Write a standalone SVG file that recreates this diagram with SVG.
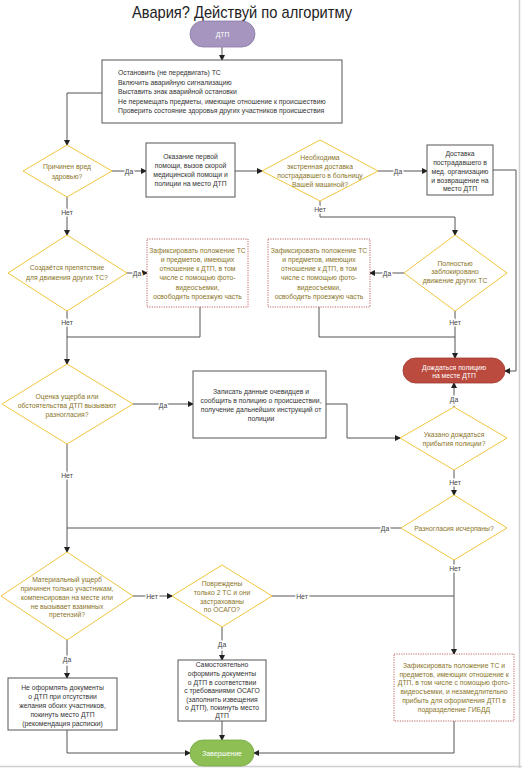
<svg xmlns="http://www.w3.org/2000/svg" width="522" height="768" viewBox="0 0 522 768">
<style>
text{font-family:"Liberation Sans",Arial,sans-serif;}
.t{font-size:6.8px;fill:#333;}
.c{text-anchor:middle;}
.q{font-size:6.8px;fill:#8a7428;text-anchor:middle;}
.w{font-size:6.8px;fill:#fff;text-anchor:middle;}
.box{fill:#fff;stroke:#555;stroke-width:1;}
.red{fill:#fff;stroke:#b04040;stroke-width:0.8;stroke-dasharray:1.2 1.2;}
.dia{fill:#fff;stroke:#f0c63c;stroke-width:1;}
.ln{fill:none;stroke:#555;stroke-width:1;}
.lb{font-size:6.8px;fill:#444;text-anchor:middle;stroke:#fff;stroke-width:3;paint-order:stroke;}
</style>
<defs>
<marker id="a" markerWidth="6" markerHeight="6" refX="5" refY="3" orient="auto" markerUnits="userSpaceOnUse">
<path d="M0,0 L6,3 L0,6 Z" fill="#222"/>
</marker>
</defs>
<rect width="522" height="768" fill="#fff"/>
<line x1="519.5" y1="0" x2="519.5" y2="768" stroke="#d0d0d0" stroke-width="1.5"/>
<line x1="0" y1="766.5" x2="522" y2="766.5" stroke="#d0d0d0" stroke-width="1.5"/>
<text x="242" y="18" font-size="17" fill="#222" text-anchor="middle" textLength="220" lengthAdjust="spacingAndGlyphs">Авария? Действуй по алгоритму</text>

<g id="connectors">
<path class="ln" d="M222,47 V60" marker-end="url(#a)"/>
<path class="ln" d="M102,93 H67 V145" marker-end="url(#a)"/>
<path class="ln" d="M112,171 H146" marker-end="url(#a)"/>
<path class="ln" d="M235,171 H262" marker-end="url(#a)"/>
<path class="ln" d="M378,171 H427" marker-end="url(#a)"/>
<path class="ln" d="M493,170 H516 V371 H505" stroke="#777" marker-end="url(#a)"/>
<path class="ln" d="M67,197 V235" marker-end="url(#a)"/>
<path class="ln" d="M320,201 V217 H455 V235" marker-end="url(#a)"/>
<path class="ln" d="M127,273 H147" marker-end="url(#a)"/>
<path class="ln" d="M404,273 H370" marker-end="url(#a)"/>
<path class="ln" d="M67,311 V364" marker-end="url(#a)"/>
<path class="ln" d="M200,307 V337 H67"/>
<path class="ln" d="M455,311 V358" marker-end="url(#a)"/>
<path class="ln" d="M319,307 V337 H455"/>
<path class="ln" d="M133,404 H193" marker-end="url(#a)"/>
<path class="ln" d="M326,404 H347 V438 H400" marker-end="url(#a)"/>
<path class="ln" d="M454,407 V383" marker-end="url(#a)"/>
<path class="ln" d="M454,470 V495" marker-end="url(#a)"/>
<path class="ln" d="M401,528 H67" stroke="#888" stroke-width="1.5"/>
<path class="ln" d="M67,444 V552" marker-end="url(#a)"/>
<path class="ln" d="M454,560 V654" marker-end="url(#a)"/>
<path class="ln" d="M133,596 H172" marker-end="url(#a)"/>
<path class="ln" d="M272,596 H454"/>
<path class="ln" d="M67,640 V678" marker-end="url(#a)"/>
<path class="ln" d="M222,627 V660" marker-end="url(#a)"/>
<path class="ln" d="M67,730 V753 H190" marker-end="url(#a)"/>
<path class="ln" d="M222,721 V740" marker-end="url(#a)"/>
<path class="ln" d="M454,721 V753 H254" marker-end="url(#a)"/>
<text class="lb" x="129" y="173.5">Да</text>
<text class="lb" x="398" y="173.5">Да</text>
<text class="lb" x="67" y="214.5">Нет</text>
<text class="lb" x="320" y="211.5">Нет</text>
<text class="lb" x="137" y="275.5">Да</text>
<text class="lb" x="387" y="275.5">Да</text>
<text class="lb" x="67" y="324.5">Нет</text>
<text class="lb" x="455" y="324.5">Нет</text>
<text class="lb" x="163" y="407.5">Да</text>
<text class="lb" x="454" y="401.5">Да</text>
<text class="lb" x="67" y="477.5">Нет</text>
<text class="lb" x="455" y="484.5">Нет</text>
<text class="lb" x="385" y="530.5">Да</text>
<text class="lb" x="455" y="570.5">Нет</text>
<text class="lb" x="152" y="598.5">Нет</text>
<text class="lb" x="302" y="598.5">Нет</text>
<text class="lb" x="67" y="661.5">Да</text>
<text class="lb" x="222" y="646.5">Да</text>
</g>

<g id="dtp">
<rect x="190" y="21" width="65" height="26" rx="13" fill="#a595bf" stroke="#8a7aa6" stroke-width="0.8"/>
<text class="w" x="222.5" y="36.5">ДТП</text>
</g>

<g id="first-actions">
<rect class="box" x="102" y="60" width="240" height="63"/>
<text class="t" x="118" y="75">Остановить (не передвигать) ТС</text>
<text class="t" x="118" y="84.5">Включить аварийную сигнализацию</text>
<text class="t" x="118" y="94">Выставить знак аварийной остановки</text>
<text class="t" x="118" y="103.5">Не перемещать предметы, имеющие отношение к происшествию</text>
<text class="t" x="118" y="113">Проверить состояние здоровья других участников происшествия</text>
</g>

<g id="q-health">
<polygon class="dia" points="23,171 67,145 112,171 67,197"/>
<text class="q" x="67" y="169">Причинен вред</text>
<text class="q" x="67" y="179">здровью?</text>
</g>

<g id="first-aid">
<rect class="box" x="146" y="143" width="89" height="54"/>
<text class="t c" x="190.5" y="159">Оказание первой</text>
<text class="t c" x="190.5" y="168">помощи, вызов скорой</text>
<text class="t c" x="190.5" y="177">медицинской помощи и</text>
<text class="t c" x="190.5" y="186">полиции на место ДТП</text>
</g>

<g id="q-hospital">
<polygon class="dia" points="262,171 320,140 378,171 320,201"/>
<text class="q" x="320" y="160">Необходима</text>
<text class="q" x="320" y="169">экстренная доставка</text>
<text class="q" x="320" y="178">пострадавшего в больницу</text>
<text class="q" x="320" y="186.5">Вашей машиной?</text>
</g>

<g id="delivery">
<rect class="box" x="427" y="145" width="66" height="50"/>
<text class="t c" x="460" y="155.5">Доставка</text>
<text class="t c" x="460" y="164.5">пострадавшего в</text>
<text class="t c" x="460" y="173.5">мед. организацию</text>
<text class="t c" x="460" y="182.5">и возвращение на</text>
<text class="t c" x="460" y="191">место ДТП</text>
</g>

<g id="q-obstacle">
<polygon class="dia" points="8,273 67,235 127,273 67,311"/>
<text class="q" x="67" y="270">Создаётся препятствие</text>
<text class="q" x="67" y="280">для движения других ТС?</text>
</g>

<g id="fix-1">
<rect class="red" x="147" y="239" width="101" height="68"/>
<text class="q" x="197.5" y="253">Зафиксировать положение ТС</text>
<text class="q" x="197.5" y="262">и предметов, имеющих</text>
<text class="q" x="197.5" y="271">отношение к ДТП, в том</text>
<text class="q" x="197.5" y="280">числе с помощью фото-</text>
<text class="q" x="197.5" y="289.5">видеосъемки,</text>
<text class="q" x="197.5" y="298.5">освободить проезжую часть</text>
</g>

<g id="fix-2">
<rect class="red" x="268" y="239" width="102" height="68"/>
<text class="q" x="319" y="253">Зафиксировать положение ТС</text>
<text class="q" x="319" y="262">и предметов, имеющих</text>
<text class="q" x="319" y="271">отношение к ДТП, в том</text>
<text class="q" x="319" y="280">числе с помощью фото-</text>
<text class="q" x="319" y="289.5">видеосъемки,</text>
<text class="q" x="319" y="298.5">освободить проезжую часть</text>
</g>

<g id="q-blocked">
<polygon class="dia" points="404,273 455,235 507,273 455,311"/>
<text class="q" x="455" y="265.5">Полностью</text>
<text class="q" x="455" y="274">заблокировано</text>
<text class="q" x="455" y="283">движение других ТС</text>
</g>

<g id="wait-police">
<rect x="403" y="358" width="102" height="25" rx="12.5" fill="#bb4a3f" stroke="#a03a30" stroke-width="0.8"/>
<text class="w" x="454" y="369.5">Дождаться полицию</text>
<text class="w" x="454" y="378">на месте ДТП</text>
</g>

<g id="q-dispute">
<polygon class="dia" points="2,404 67,364 133,404 67,444"/>
<text class="q" x="67" y="399">Оценка ущерба или</text>
<text class="q" x="67" y="407.5">обстоятельства ДТП вызывают</text>
<text class="q" x="67" y="416.5">разногласия?</text>
</g>

<g id="record">
<rect class="box" x="193" y="371" width="133" height="67"/>
<text class="t c" x="261" y="394">Записать данные очевидцев и</text>
<text class="t c" x="261" y="403">сообщить в полицию о происшествии,</text>
<text class="t c" x="261" y="412">получение дальнейших инструкций от</text>
<text class="t c" x="261" y="421">полиции</text>
</g>

<g id="q-told-wait">
<polygon class="dia" points="400,438 454,407 507,438 454,470"/>
<text class="q" x="454" y="437">Указано дождаться</text>
<text class="q" x="454" y="446">прибытия полиции?</text>
</g>

<g id="q-resolved">
<polygon class="dia" points="401,528 454,495 507,528 454,560"/>
<text class="q" x="454" y="530.5">Разногласия исчерпаны?</text>
</g>

<g id="q-material">
<polygon class="dia" points="1,596 67,552 133,596 67,640"/>
<text class="q" x="67" y="581.5">Материальный ущерб</text>
<text class="q" x="67" y="590.5">причинен только участникам,</text>
<text class="q" x="67" y="599.5">компенсирован на месте или</text>
<text class="q" x="67" y="608.5">не вызывает взаимных</text>
<text class="q" x="67" y="617">претензий?</text>
</g>

<g id="q-osago">
<polygon class="dia" points="172,596 222,565 272,596 222,627"/>
<text class="q" x="222" y="586">Повреждены</text>
<text class="q" x="222" y="595">только 2 ТС и они</text>
<text class="q" x="222" y="603.5">застрахованы</text>
<text class="q" x="222" y="612">по ОСАГО?</text>
</g>

<g id="no-docs">
<rect class="box" x="8" y="678" width="109" height="52"/>
<text class="t c" x="62.5" y="690">Не оформлять документы</text>
<text class="t c" x="62.5" y="699">о ДТП при отсутствии</text>
<text class="t c" x="62.5" y="708">желания обоих участников,</text>
<text class="t c" x="62.5" y="716.5">покинуть место ДТП</text>
<text class="t c" x="62.5" y="725.5">(рекомендация расписки)</text>
</g>

<g id="self-docs">
<rect class="box" x="178" y="660" width="88" height="61"/>
<text class="t c" x="222" y="667">Самостоятельно</text>
<text class="t c" x="222" y="676">оформить документы</text>
<text class="t c" x="222" y="684.5">о ДТП в соответствии</text>
<text class="t c" x="222" y="693">с требованиями ОСАГО</text>
<text class="t c" x="222" y="701.5">(заполнить извещения</text>
<text class="t c" x="222" y="710">о ДТП), покинуть место</text>
<text class="t c" x="222" y="718">ДТП</text>
</g>

<g id="fix-3">
<rect class="red" x="394" y="654" width="120" height="67"/>
<text class="q" x="454" y="668">Зафиксировать положение ТС и</text>
<text class="q" x="454" y="676.5">предметов, имеющих отношение к</text>
<text class="q" x="454" y="685">ДТП, в том числе с помощью фото-</text>
<text class="q" x="454" y="694">видеосъемки, и незамедлительно</text>
<text class="q" x="454" y="703">прибыть для оформления  ДТП в</text>
<text class="q" x="454" y="712">подразделение ГИБДД</text>
</g>

<g id="finish">
<rect x="190" y="740" width="64" height="26" rx="13" fill="#8dbf55" stroke="#76a845" stroke-width="0.8"/>
<text class="w" x="222" y="755.5">Завершение</text>
</g>
</svg>
